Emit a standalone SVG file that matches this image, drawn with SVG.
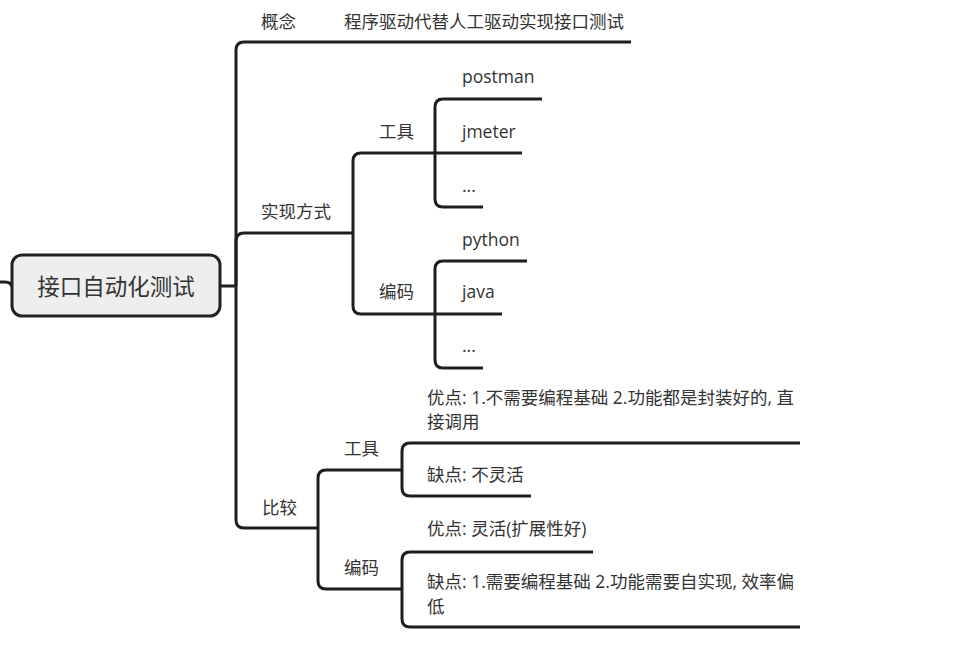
<svg xmlns="http://www.w3.org/2000/svg" width="968" height="646" viewBox="0 0 968 646">
<style>
.t{font-family:"Open Sans","Noto Sans CJK SC",sans-serif;font-size:17.5px;fill:#333}
.r{font-family:"Open Sans","Noto Sans CJK SC",sans-serif;font-size:22.5px;fill:#333}
.c{fill:none;stroke:#1e1e1e;stroke-width:3;stroke-linecap:butt}
</style>
<rect width="968" height="646" fill="#fff"/>
<g id="connectors">
<path class="c" d="M0,282 H5 Q11,282 12,287"/>
<path class="c" d="M220,286 H236"/>
<path class="c" d="M236,286 V50 Q236,42 244,42 H631"/>
<path class="c" d="M236,286 V241 Q236,233 244,233 H353"/>
<path class="c" d="M236,286 V520 Q236,528 244,528 H318"/>
<path class="c" d="M353,233 V161 Q353,153 361,153 H435"/>
<path class="c" d="M353,233 V306 Q353,314 361,314 H435"/>
<path class="c" d="M435,153 V107 Q435,99 443,99 H542"/>
<path class="c" d="M435,153 H522"/>
<path class="c" d="M435,153 V199 Q435,207 443,207 H483"/>
<path class="c" d="M435,314 V269 Q435,261 443,261 H527"/>
<path class="c" d="M435,314 H502"/>
<path class="c" d="M435,314 V360 Q435,368 443,368 H483"/>
<path class="c" d="M318,528 V478 Q318,470 326,470 H402"/>
<path class="c" d="M318,528 V581 Q318,589 326,589 H402"/>
<path class="c" d="M402,470 V451 Q402,443 410,443 H800"/>
<path class="c" d="M402,470 V488 Q402,496 410,496 H531"/>
<path class="c" d="M402,589 V560 Q402,552 410,552 H593"/>
<path class="c" d="M402,589 V619 Q402,627 410,627 H800"/>
</g>
<g id="root">
<rect x="12" y="255" width="208" height="61" rx="10" fill="#eeeeee" stroke="#222" stroke-width="3"/>
<text class="r" x="116" y="295" text-anchor="middle">接口自动化测试</text>
</g>
<g id="concept"><text class="t" x="261" y="28">概念</text></g>
<g id="concept-desc"><text class="t" x="344" y="28">程序驱动代替人工驱动实现接口测试</text></g>
<g id="impl"><text class="t" x="261" y="218">实现方式</text></g>
<g id="impl-tool"><text class="t" x="379" y="138">工具</text></g>
<g id="postman"><text class="t" x="462" y="83">postman</text></g>
<g id="jmeter"><text class="t" x="462" y="138">jmeter</text></g>
<g id="tool-more"><text class="t" x="462" y="192">...</text></g>
<g id="impl-code"><text class="t" x="379" y="298">编码</text></g>
<g id="python"><text class="t" x="462" y="246">python</text></g>
<g id="java"><text class="t" x="462" y="298">java</text></g>
<g id="code-more"><text class="t" x="462" y="352">...</text></g>
<g id="compare"><text class="t" x="262" y="514">比较</text></g>
<g id="cmp-tool"><text class="t" x="344" y="455">工具</text></g>
<g id="tool-pro"><text class="t" x="427" y="404">优点: 1.不需要编程基础 2.功能都是封装好的, 直</text><text class="t" x="427" y="428">接调用</text></g>
<g id="tool-con"><text class="t" x="427" y="481">缺点: 不灵活</text></g>
<g id="cmp-code"><text class="t" x="344" y="574">编码</text></g>
<g id="code-pro"><text class="t" x="427" y="535">优点: 灵活(扩展性好)</text></g>
<g id="code-con"><text class="t" x="427" y="588">缺点: 1.需要编程基础 2.功能需要自实现, 效率偏</text><text class="t" x="427" y="613">低</text></g>
</svg>
